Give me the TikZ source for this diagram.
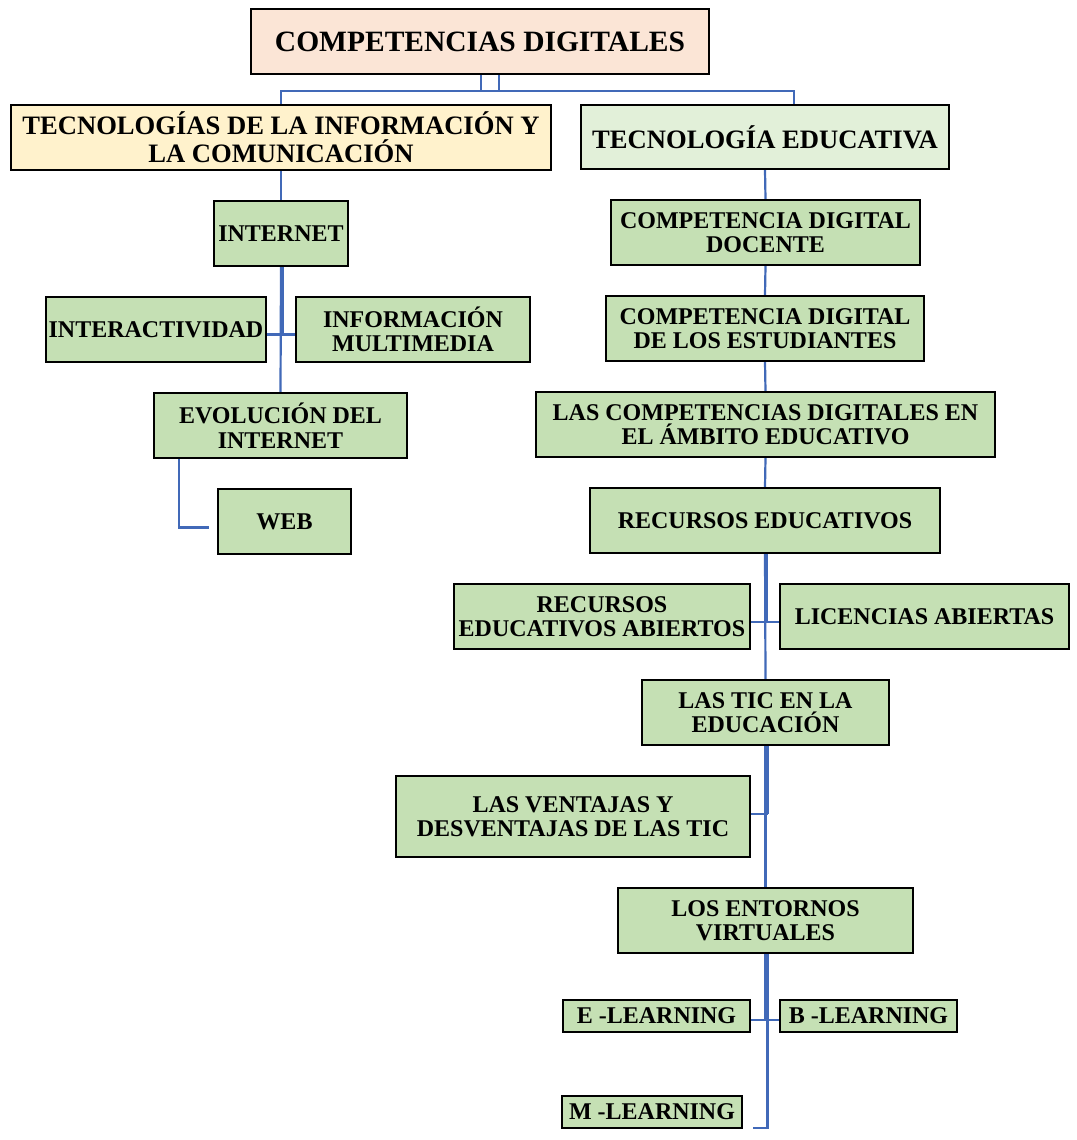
\documentclass[tikz,border=0pt]{standalone}
\usepackage{fontspec}
\setmainfont{Liberation Serif}
\definecolor{peach}{HTML}{FBE5D6}
\definecolor{paleyellow}{HTML}{FFF2CC}
\definecolor{palegreen}{HTML}{E2F0D9}
\definecolor{boxgreen}{HTML}{C5E0B4}
\definecolor{linkblue}{HTML}{4169B8}
\tikzset{
  bx/.style={draw=black, line width=2.2pt, align=center, inner sep=0pt,
    font=\bfseries\fontsize{24}{24.5}\selectfont, fill=boxgreen},
  topbx/.style={bx, fill=peach, font=\bfseries\fontsize{29.5}{30}\selectfont},
  lvlone/.style={bx, font=\bfseries\fontsize{26.6}{28}\selectfont},
  conn/.style={draw=linkblue, line width=2.2pt}
}
\begin{document}
\begin{tikzpicture}[x=1pt,y=-1pt]
\useasboundingbox (0,0) rectangle (1076,1140);
\fill[white] (0,0) rectangle (1076,1140);

% nodes
\node[topbx, minimum width=458pt, minimum height=65pt] (t) at (480,41.5) {COMPETENCIAS DIGITALES};
\node[lvlone, fill=paleyellow, minimum width=540pt, minimum height=65pt] (tic) at (281,137.5) {TECNOLOGÍAS DE LA INFORMACIÓN Y\\LA COMUNICACIÓN};
\node[lvlone, fill=palegreen, minimum width=368pt, minimum height=64pt] (ted) at (765,137) {TECNOLOGÍA EDUCATIVA};

\node[bx, minimum width=134pt, minimum height=65pt] (inet) at (281,233.5) {INTERNET};
\node[bx, minimum width=220pt, minimum height=65pt] (inter) at (156,329.5) {INTERACTIVIDAD};
\node[bx, minimum width=234pt, minimum height=65pt] (info) at (413,329.5) {INFORMACIÓN\\MULTIMEDIA};
\node[bx, minimum width=253pt, minimum height=65pt] (evo) at (280.5,425.5) {EVOLUCIÓN DEL\\INTERNET};
\node[bx, minimum width=133pt, minimum height=65pt] (web) at (284.5,521.5) {WEB};

\node[bx, minimum width=309pt, minimum height=65pt] (cdd) at (765.5,232.5) {COMPETENCIA DIGITAL\\DOCENTE};
\node[bx, minimum width=318pt, minimum height=65pt] (cde) at (765,328.5) {COMPETENCIA DIGITAL\\DE LOS ESTUDIANTES};
\node[bx, minimum width=459pt, minimum height=65pt] (amb) at (765.5,424.5) {LAS COMPETENCIAS DIGITALES EN\\EL ÁMBITO EDUCATIVO};
\node[bx, minimum width=350pt, minimum height=65pt] (rec) at (765,520.5) {RECURSOS EDUCATIVOS};
\node[bx, minimum width=296pt, minimum height=65pt] (rea) at (602,616.5) {RECURSOS\\EDUCATIVOS ABIERTOS};
\node[bx, minimum width=289pt, minimum height=65pt] (lic) at (924.5,616.5) {LICENCIAS ABIERTAS};
\node[bx, minimum width=247pt, minimum height=65pt] (tice) at (765.5,712.5) {LAS TIC EN LA\\EDUCACIÓN};
\node[bx, minimum width=354pt, minimum height=81pt] (ven) at (573,816.5) {LAS VENTAJAS Y\\DESVENTAJAS DE LAS TIC};
\node[bx, minimum width=295pt, minimum height=65pt] (ent) at (765.5,920.5) {LOS ENTORNOS\\VIRTUALES};
\node[bx, minimum width=187pt, minimum height=32pt] (el) at (656.5,1016) {E -LEARNING};
\node[bx, minimum width=177pt, minimum height=32pt] (bl) at (868.5,1016) {B -LEARNING};
\node[bx, minimum width=180pt, minimum height=32pt] (ml) at (652,1112) {M -LEARNING};

% connectors from the title
\draw[conn] ([xshift=1pt]t.south) -- ++(0,16);
\draw[conn] ([xshift=19pt]t.south) -- ++(0,16);
\draw[conn] (tic.north) -- ++(0,-13) -| ([xshift=29pt]ted.north);

% left branch
\draw[conn] (tic.south) -- (inet.north);
\draw[conn] (inet.south) -- (evo.north);
\draw[conn] ([xshift=2pt]inet.south) -- ++(0,68);
\draw[conn] ([yshift=-5pt]inter.east) -- ([yshift=-5pt]info.west);
\draw[conn] ([xshift=-101.5pt]evo.south) |- ([xshift=-8pt,yshift=-6pt]web.west);

% right branch
\draw[conn] (ted.south) -- (cdd.north);
\draw[conn] (cdd.south) -- (cde.north);
\draw[conn] (cde.south) -- (amb.north);
\draw[conn] (amb.south) -- (rec.north);
\draw[conn] (rec.south) -- (tice.north);
\draw[conn] ([xshift=2pt]rec.south) -- ++(0,68);
\draw[conn] ([yshift=-5.5pt]rea.east) -- ([yshift=-5.5pt]lic.west);
\draw[conn] (tice.south) -- (ent.north);
\draw[conn] ([xshift=2pt]tice.south) -- ++(0,68);
\draw[conn] ([yshift=2.5pt]ven.east) -- ([xshift=2pt,yshift=2.5pt]ven.east -| tice.south);
\draw[conn] (ent.south) -- ++(0,66);
\draw[conn] ([xshift=2pt]ent.south) |- ([xshift=10pt,yshift=-16pt]ml.east);
\draw[conn] ([yshift=-4pt]el.east) -- ([yshift=-4pt]bl.west);
\end{tikzpicture}
\end{document}
